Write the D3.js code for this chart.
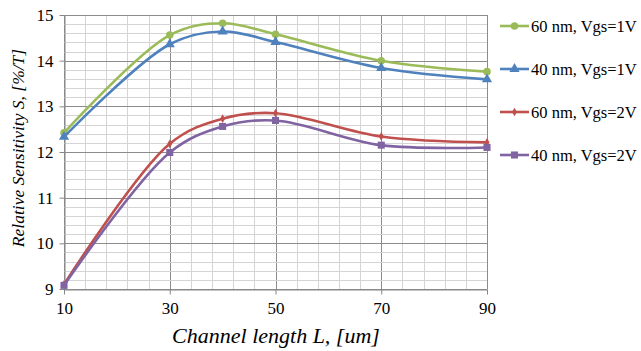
<!DOCTYPE html>
<html>
<head>
<meta charset="utf-8">
<script src="https://cdn.jsdelivr.net/npm/d3@7"></script>
<style>
  body { margin: 0; background: #fff; }
  text { font-family: "Liberation Serif", "Times New Roman", serif; fill: #000; }
</style>
</head>
<body>
<svg id="chart" width="641" height="351"></svg>
<script>
var lengths = [10, 30, 40, 50, 70, 90];
var seriesNames = ["60 nm, Vgs=1V", "40 nm, Vgs=1V", "60 nm, Vgs=2V", "40 nm, Vgs=2V"];
var green60v1 = [12.42, 14.56, 14.82, 14.58, 14.0, 13.76];
var blue40v1 = [12.33, 14.36, 14.64, 14.41, 13.84, 13.59];
var red60v2 = [9.1, 12.18, 12.73, 12.85, 12.34, 12.21];
var purple40v2 = [9.08, 11.99, 12.56, 12.69, 12.15, 12.1];
var xTicks = [10, 30, 50, 70, 90];
var yTicks = [9, 10, 11, 12, 13, 14, 15];

var seriesValues = [green60v1, blue40v1, red60v2, purple40v2];
var colors = ["#9bbb59", "#4f81bd", "#c0504d", "#8064a2"];
var markers = [d3.symbolCircle, d3.symbolTriangle, d3.symbolDiamond, d3.symbolSquare];
var markerSizes = [45, 45, 22, 50];

var plotLeft = 64, plotRight = 487, plotTop = 15, plotBottom = 289;
var serif = '"Liberation Serif", "Times New Roman", serif';
var svg = d3.select("#chart");

var x = d3.scaleLinear().domain([10, 90]).range([plotLeft, plotRight]);
var y = d3.scaleLinear().domain([9, 15]).range([plotBottom, plotTop]);

// grid lines --start
var minorX = d3.range(10, 90.1, 4);
var minorY = d3.range(9, 15.01, 0.2);
svg.append("g").selectAll("line").data(minorX).enter().append("line")
  .attr("x1", d => Math.round(x(d)) + 0.5).attr("x2", d => Math.round(x(d)) + 0.5)
  .attr("y1", plotTop).attr("y2", plotBottom)
  .attr("stroke", d => (d - 10) % 20 === 0 ? "#8c8c8c" : "#d4d4d4").attr("stroke-width", 1);
svg.append("g").selectAll("line").data(minorY).enter().append("line")
  .attr("x1", plotLeft).attr("x2", plotRight)
  .attr("y1", d => Math.round(y(d)) + 0.5).attr("y2", d => Math.round(y(d)) + 0.5)
  .attr("stroke", d => Math.abs(d - Math.round(d)) < 0.01 ? "#8c8c8c" : "#d4d4d4").attr("stroke-width", 1);
// grid lines --end

var xAxis = svg.append("g")
  .attr("transform", "translate(0," + (plotBottom + 0.5) + ")")
  .call(d3.axisBottom(x).tickValues(xTicks).tickFormat(d3.format("d"))
    .tickSize(5).tickPadding(7).tickSizeOuter(0));
var yAxis = svg.append("g")
  .attr("transform", "translate(" + (plotLeft + 0.5) + ",0)")
  .call(d3.axisLeft(y).tickValues(yTicks).tickFormat(d3.format("d"))
    .tickSize(5).tickPadding(6).tickSizeOuter(0));
[xAxis, yAxis].forEach(function(a){
  a.attr("font-family", null).attr("font-size", null);
  a.select(".domain").attr("stroke", "#868686");
  a.selectAll(".tick line").attr("stroke", "#868686");
  a.selectAll("text").style("font-family", serif).style("font-size", "17px").attr("fill", "#000");
});

var line = d3.line()
  .x((d, i) => x(lengths[i]))
  .y(d => y(d))
  .curve(d3.curveCatmullRom.alpha(0.5));

seriesValues.forEach(function(vals, s){
  svg.append("path")
    .attr("d", line(vals))
    .attr("fill", "none")
    .attr("stroke", colors[s])
    .attr("stroke-width", 2.6);
  svg.append("g").selectAll("path").data(vals).enter().append("path")
    .attr("d", d3.symbol().type(markers[s]).size(markerSizes[s]))
    .attr("transform", (d, i) => "translate(" + x(lengths[i]) + "," + y(d) + ")")
    .attr("fill", colors[s]);
});

// axis titles
svg.append("text")
  .attr("x", 276).attr("y", 343)
  .attr("text-anchor", "middle")
  .style("font-family", serif).style("font-size", "22px").style("font-style", "italic")
  .text("Channel length L, [um]");
svg.append("text")
  .attr("transform", "translate(24,148) rotate(-90)")
  .attr("text-anchor", "middle")
  .style("font-family", serif).style("font-size", "17.5px").style("font-style", "italic")
  .text("Relative Sensitivity S, [%/T]");

// legend
var legendY = [26, 69, 112, 155];
seriesNames.forEach(function(name, s){
  var g = svg.append("g").attr("transform", "translate(500," + legendY[s] + ")");
  g.append("line").attr("x1", 0).attr("x2", 29).attr("y1", 0).attr("y2", 0)
    .attr("stroke", colors[s]).attr("stroke-width", 2.6);
  g.append("path").attr("d", d3.symbol().type(markers[s]).size(markerSizes[s]))
    .attr("transform", "translate(14.5,0)").attr("fill", colors[s]);
  g.append("text").attr("x", 31).attr("y", 5.5)
    .style("font-family", serif).style("font-size", "16.5px").text(name);
});
</script>
</body>
</html>
